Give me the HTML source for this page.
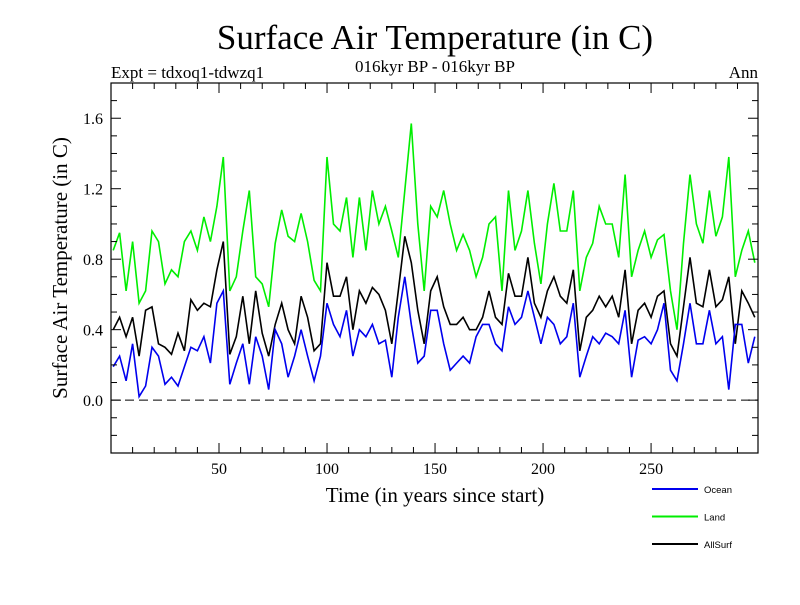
<!DOCTYPE html>
<html><head><meta charset="utf-8"><style>
body{margin:0;background:#fff;}
svg text{font-family:"Liberation Serif",serif;}
</style></head><body>
<svg id="c" width="800" height="600" xmlns="http://www.w3.org/2000/svg">
<text x="435" y="49" font-size="35" text-anchor="middle">Surface Air Temperature (in C)</text>
<text x="435" y="72" font-size="17" text-anchor="middle">016kyr BP - 016kyr BP</text>
<text x="111" y="78" font-size="17">Expt = tdxoq1-tdwzq1</text>
<text x="758" y="78" font-size="17" text-anchor="end">Ann</text>
<text transform="translate(67,268) rotate(-90)" font-size="21" text-anchor="middle">Surface Air Temperature (in C)</text>
<text x="435" y="502" font-size="21" text-anchor="middle">Time (in years since start)</text>
<g id="plot"></g>
<g id="legend"></g>
</svg>
<script>
const years=[1,4,7,10,13,16,19,22,25,28,31,34,37,40,43,46,49,52,55,58,61,64,67,70,73,76,79,82,85,88,91,94,97,100,103,106,109,112,115,118,121,124,127,130,133,136,139,142,145,148,151,154,157,160,163,166,169,172,175,178,181,184,187,190,193,196,199,202,205,208,211,214,217,220,223,226,229,232,235,238,241,244,247,250,253,256,259,262,265,268,271,274,277,280,283,286,289,292,295,298];
const land=[0.85,0.95,0.62,0.9,0.55,0.62,0.96,0.9,0.66,0.74,0.7,0.9,0.96,0.85,1.04,0.9,1.1,1.38,0.62,0.7,0.96,1.19,0.7,0.66,0.53,0.89,1.08,0.93,0.9,1.06,0.9,0.68,0.62,1.38,1.0,0.96,1.15,0.81,1.15,0.85,1.19,1.0,1.1,0.96,0.81,1.19,1.57,1.0,0.62,1.1,1.04,1.19,1.0,0.85,0.94,0.85,0.7,0.81,1.0,1.04,0.62,1.19,0.85,0.96,1.19,0.89,0.66,1.0,1.23,0.96,0.96,1.19,0.62,0.81,0.89,1.1,1.0,1.0,0.81,1.28,0.7,0.85,0.96,0.81,0.91,0.94,0.62,0.4,0.89,1.28,1.0,0.89,1.19,0.93,1.04,1.38,0.7,0.85,0.96,0.78];
const allsurf=[0.4,0.47,0.36,0.47,0.25,0.51,0.53,0.32,0.3,0.26,0.38,0.28,0.57,0.51,0.55,0.53,0.74,0.9,0.26,0.36,0.59,0.32,0.62,0.38,0.25,0.43,0.55,0.4,0.32,0.59,0.47,0.28,0.32,0.78,0.59,0.59,0.7,0.4,0.62,0.55,0.64,0.6,0.51,0.32,0.62,0.93,0.78,0.51,0.32,0.62,0.7,0.53,0.43,0.43,0.47,0.4,0.4,0.47,0.62,0.47,0.43,0.72,0.59,0.59,0.81,0.55,0.47,0.62,0.7,0.59,0.55,0.74,0.28,0.47,0.51,0.59,0.53,0.59,0.47,0.74,0.32,0.51,0.55,0.47,0.59,0.62,0.32,0.25,0.53,0.81,0.55,0.53,0.74,0.53,0.57,0.7,0.32,0.62,0.55,0.47];
const ocean=[0.19,0.25,0.11,0.32,0.02,0.08,0.3,0.25,0.09,0.13,0.08,0.19,0.3,0.28,0.36,0.21,0.55,0.62,0.09,0.21,0.32,0.09,0.36,0.25,0.06,0.4,0.32,0.13,0.25,0.4,0.25,0.11,0.25,0.55,0.43,0.36,0.51,0.25,0.4,0.36,0.43,0.32,0.34,0.13,0.47,0.7,0.43,0.21,0.25,0.51,0.51,0.32,0.17,0.21,0.25,0.21,0.36,0.43,0.43,0.32,0.28,0.53,0.43,0.47,0.62,0.47,0.32,0.47,0.43,0.32,0.36,0.55,0.13,0.25,0.36,0.32,0.38,0.36,0.32,0.51,0.13,0.34,0.36,0.32,0.4,0.55,0.17,0.11,0.32,0.55,0.32,0.32,0.51,0.32,0.36,0.06,0.43,0.43,0.21,0.36];
const yTicks=[0.0,0.4,0.8,1.2,1.6];
const yTickLabels=["0.0","0.4","0.8","1.2","1.6"];
const xTicks=[50,100,150,200,250];
const xTickLabels=["50","100","150","200","250"];
const seriesNames=["Ocean","Land","AllSurf"];

const L=111,R=758,T=83,B=453,X0=0,X1=299.5,Y0=-0.3,Y1=1.8;
const sx=v=>L+(v-X0)/(X1-X0)*(R-L);
const sy=v=>B-(v-Y0)/(Y1-Y0)*(B-T);
const NS="http://www.w3.org/2000/svg";
const plot=document.getElementById('plot');
function mk(tag,attrs,parent){const e=document.createElementNS(NS,tag);for(const k in attrs)e.setAttribute(k,attrs[k]);(parent||plot).appendChild(e);return e;}

const z=mk('line',{x1:L,x2:R,y1:sy(0),y2:sy(0),stroke:'#000','stroke-width':1,'stroke-dasharray':'9,5'});



function series(vals,color,name){
  const d=vals.map((v,i)=>(i?'L':'M')+sx(years[i]).toFixed(1)+','+sy(v).toFixed(1)).join('');
  const p=mk('path',{d:d,fill:'none',stroke:color,'stroke-width':1.6,'stroke-linejoin':'miter'});
  
  
}
series(land,'#00ee00','land-series');
series(allsurf,'#000000','allsurf-series');
series(ocean,'#0000ee','ocean-series');

const fr=mk('rect',{x:L,y:T,width:R-L,height:B-T,fill:'none',stroke:'#000','stroke-width':1.2});



for(let v=-0.3;v<=1.801;v+=0.1){
  const y=sy(v);const major=Math.abs(Math.round(v*10)%4)===0;const len=major?10:6;
  mk('line',{x1:L,x2:L+len,y1:y,y2:y,stroke:'#000','stroke-width':1});
  mk('line',{x1:R,x2:R-len,y1:y,y2:y,stroke:'#000','stroke-width':1});
}
yTicks.forEach((v,i)=>{
  const t=mk('text',{x:L-8,y:sy(v)+6,'font-size':16,'text-anchor':'end'});
  t.textContent=yTickLabels[i];
  
  
});
for(let v=10;v<300;v+=10){
  const x=sx(v);const major=v%50===0;const len=major?10:6;
  mk('line',{x1:x,x2:x,y1:B,y2:B-len,stroke:'#000','stroke-width':1});
  mk('line',{x1:x,x2:x,y1:T,y2:T+len,stroke:'#000','stroke-width':1});
}
xTicks.forEach((v,i)=>{
  const t=mk('text',{x:sx(v),y:B+21,'font-size':16,'text-anchor':'middle'});
  t.textContent=xTickLabels[i];
  
  
});

const lg=document.getElementById('legend');
const lcol=['#0000ee','#00ee00','#000000'];
seriesNames.forEach((n,i)=>{
  const y=489+i*27.5;
  const g=mk('g',{},lg);
  
  
  mk('line',{x1:652,x2:698,y1:y,y2:y,stroke:lcol[i],'stroke-width':2},g);
  const t=mk('text',{x:704,y:y+4,'font-size':9.5,style:'font-family:"Liberation Sans",sans-serif'},g);
  t.textContent=n;
});
</script>
</body></html>
